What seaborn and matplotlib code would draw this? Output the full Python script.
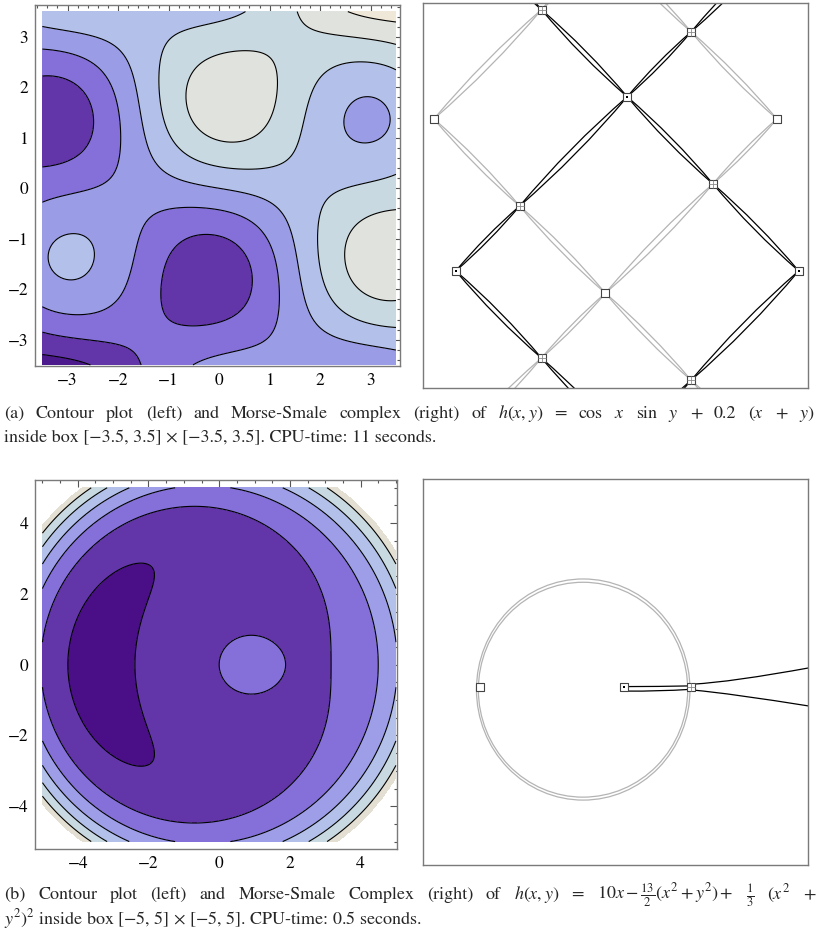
import numpy as np
import matplotlib
matplotlib.use("Agg")
import matplotlib.pyplot as plt
from matplotlib.path import Path
from matplotlib.patches import PathPatch, Ellipse
from matplotlib.ticker import MultipleLocator
import seaborn as sns

W, H = 818, 931

# ---------- (a) h(x,y) = cos x sin y + 0.2 (x + y) ----------
a_box = (-3.5, 3.5)
a_levels = [-1.5, -1.0, -0.5, 0.0, 0.5, 1.0, 1.5]
a_colors = ["#4c1a8c", "#6236a9", "#8470d8", "#9b9ce6",
            "#b3c0ea", "#c8d9e2", "#e0e2dd", "#efe7d8"]
a_ticks = [-3, -2, -1, 0, 1, 2, 3]

# critical points (some lie just outside the box)
a_max_x = [0.2, -2.94, 3.34, -2.94, 3.34, 0.2]
a_max_y = [1.77, -1.37, -1.37, 4.91, 4.91, -4.51]
a_min_x = [-3.34, 2.94, -0.2, -0.2, -3.34, 2.94]
a_min_y = [1.37, 1.37, -1.77, 4.51, -4.91, -4.91]
a_sad_x = [-1.37, 1.37, 1.77, -1.77, -1.37, 1.37]
a_sad_y = [3.34, 2.94, 0.2, -0.2, -2.94, -3.34]
# saddle -> the two maxima (black arcs) / the two minima (grey arcs)
a_up = [(0, 3), (0, 4), (0, 2), (0, 1), (1, 5), (2, 5)]
a_down = [(0, 3), (1, 3), (1, 2), (0, 2), (2, 4), (2, 5)]

# ---------- (b) h(x,y) = 10x - 13/2 (x^2+y^2) + 1/3 (x^2+y^2)^2 ----------
b_box = (-5, 5)
b_levels = [-50, 0, 50, 100, 150, 200]
b_clip = 235
b_colors = ["#4a0f86", "#6236a8", "#8470d8", "#9d9de8",
            "#b3c0ea", "#c8d9e2", "#e3dfd2"]
b_ticks = [-4, -2, 0, 2, 4]

b_min = (-3.45, 0.0)
b_max = (0.71, 0.0)
b_sad = (2.63, 0.0)
# grey double loop: centre x, centre y, width, height
b_loop_cx = [-0.465, -0.47]
b_loop_cy = [-0.075, -0.08]
b_loop_w = [6.15, 6.03]
b_loop_h = [6.37, 6.19]
# black strands: start, control, end
b_black = [
    [(0.78, 0.01), (1.7, 0.01), (2.63, 0.03)],
    [(0.78, -0.12), (1.7, -0.13), (2.62, -0.07)],
    [(2.70, 0.08), (3.8, 0.14), (6.1, 0.56)],
    [(2.70, -0.09), (3.8, -0.19), (6.1, -0.56)],
]

sns.set_style("white")
plt.rcParams["font.family"] = ["STIXGeneral", "DejaVu Serif"]
plt.rcParams["mathtext.fontset"] = "stix"
plt.rcParams["axes.unicode_minus"] = True

fig = plt.figure(figsize=(W / 100, H / 100), dpi=100)


def px_axes(x0, y0, x1, y1):
    return fig.add_axes([x0 / W, 1 - y1 / H, (x1 - x0) / W, (y1 - y0) / H])


def frame(ax):
    for s in ax.spines.values():
        s.set_color("#7a7a7a")
        s.set_linewidth(1.0)


def contour_panel(ax, func, box, levels, colors, ticks, minor, xlim, ylim, clip=None):
    g = np.linspace(box[0], box[1], 500)
    X, Y = np.meshgrid(g, g)
    Z = func(X, Y)
    if clip is not None:
        Z = np.where(Z > clip, np.nan, Z)
    lv = [-1e9] + list(levels) + [1e9]
    ax.contourf(X, Y, Z, levels=lv, colors=colors)
    ax.contour(X, Y, Z, levels=levels, colors="black", linewidths=0.8,
               linestyles="solid")
    ax.set_xlim(*xlim)
    ax.set_ylim(*ylim)
    ax.set_xticks(ticks)
    ax.set_yticks(ticks)
    ax.xaxis.set_minor_locator(MultipleLocator(minor))
    ax.yaxis.set_minor_locator(MultipleLocator(minor))
    ax.tick_params(which="both", direction="in", top=True, right=True,
                   colors="#555555", labelcolor="black", labelsize=12.5, width=0.8)
    ax.tick_params(which="major", length=5, pad=5)
    ax.tick_params(which="minor", length=2.5)
    frame(ax)


def strands(ax, p, q, color, rel=0.04):
    p, q = np.array(p, float), np.array(q, float)
    d = q - p
    L = np.hypot(*d)
    n = np.array([-d[1], d[0]]) / L
    for s in (1, -1):
        c = (p + q) / 2 + s * rel * L * n
        path = Path([p, c, q], [Path.MOVETO, Path.CURVE3, Path.CURVE3])
        ax.add_patch(PathPatch(path, fc="none", ec=color, lw=0.9, zorder=2))


def markers(ax, xs, ys, kind):
    sns.scatterplot(x=xs, y=ys, marker="s", s=32, color="white", edgecolor="#444444",
                    linewidth=0.8, ax=ax, zorder=5, legend=False)
    if kind == "saddle":
        sns.scatterplot(x=xs, y=ys, marker="+", s=30, color="#8a8a8a",
                        linewidth=0.6, ax=ax, zorder=6, legend=False)
    if kind == "max":
        sns.scatterplot(x=xs, y=ys, marker="s", s=4, color="black", linewidth=0,
                        ax=ax, zorder=6, legend=False)


def complex_panel(ax, xlim, ylim):
    ax.set_xlim(*xlim)
    ax.set_ylim(*ylim)
    ax.set_xticks([])
    ax.set_yticks([])
    frame(ax)


# ---- row (a) ----
ax = px_axes(35, 5, 400, 366)
contour_panel(ax, lambda x, y: np.cos(x) * np.sin(y) + 0.2 * (x + y),
              a_box, a_levels, a_colors, a_ticks, 0.2, (-3.645, 3.58), (-3.52, 3.63))

ax = px_axes(423, 3, 808, 388)
complex_panel(ax, (-3.54, 3.51), (-3.48, 3.46))
for i, (j, k) in enumerate(a_up):
    for m in (j, k):
        strands(ax, (a_sad_x[i], a_sad_y[i]), (a_max_x[m], a_max_y[m]), "black")
for i, (j, k) in enumerate(a_down):
    for m in (j, k):
        strands(ax, (a_sad_x[i], a_sad_y[i]), (a_min_x[m], a_min_y[m]), "#b4b4b4")
markers(ax, a_min_x, a_min_y, "min")
markers(ax, a_max_x, a_max_y, "max")
markers(ax, a_sad_x, a_sad_y, "saddle")

# ---- row (b) ----
ax = px_axes(35, 480, 397, 849)
contour_panel(ax, lambda x, y: 10 * x - 6.5 * (x**2 + y**2) + (x**2 + y**2) ** 2 / 3,
              b_box, b_levels, b_colors, b_ticks, 0.5, (-5.21, 5.03), (-5.21, 5.22),
              clip=b_clip)

ax = px_axes(423, 479, 808, 865)
complex_panel(ax, (-5.08, 6.01), (-5.13, 5.99))
for cx, cy, w, h in zip(b_loop_cx, b_loop_cy, b_loop_w, b_loop_h):
    ax.add_patch(Ellipse((cx, cy), w, h, fc="none", ec="#b4b4b4", lw=0.9, zorder=2))
for pts in b_black:
    path = Path(pts, [Path.MOVETO, Path.CURVE3, Path.CURVE3])
    ax.add_patch(PathPatch(path, fc="none", ec="black", lw=0.9, zorder=2))
markers(ax, [b_min[0]], [b_min[1]], "min")
markers(ax, [b_max[0]], [b_max[1]], "max")
markers(ax, [b_sad[0]], [b_sad[1]], "saddle")

# ---- captions ----
CAP = 13


def justify(words, ybase, x0=4, x1=815):
    r = fig.canvas.get_renderer()
    items = [fig.text(0, 1 - ybase / H, w, fontsize=CAP, va="baseline") for w in words]
    widths = [t.get_window_extent(r).width for t in items]
    gap = (x1 - x0 - sum(widths)) / (len(items) - 1)
    x = x0
    for t, w in zip(items, widths):
        t.set_x(x / W)
        x += w + gap


def plain(text, ybase, x0=4):
    fig.text(x0 / W, 1 - ybase / H, text, fontsize=CAP, va="baseline")


justify(["(a)", "Contour", "plot", "(left)", "and", "Morse-Smale", "complex", "(right)",
         "of", "$h(x,y)$", "=", "cos", "$x$", "sin", "$y$", "+", "0.2", "($x$", "+", "$y$)"],
        418)
plain("inside box [−3.5, 3.5] × [−3.5, 3.5]. CPU-time: 11 seconds.", 442)

justify(["(b)", "Contour", "plot", "(left)", "and", "Morse-Smale", "Complex", "(right)",
         "of", "$h(x,y)$", "=", r"$10x-\frac{13}{2}(x^2+y^2)+$", r"$\frac{1}{3}$",
         "$(x^2$", "+"],
        899)
plain("$y^2)^2$ inside box [−5, 5] × [−5, 5]. CPU-time: 0.5 seconds.", 924)

fig.savefig("out.png", dpi=100)
